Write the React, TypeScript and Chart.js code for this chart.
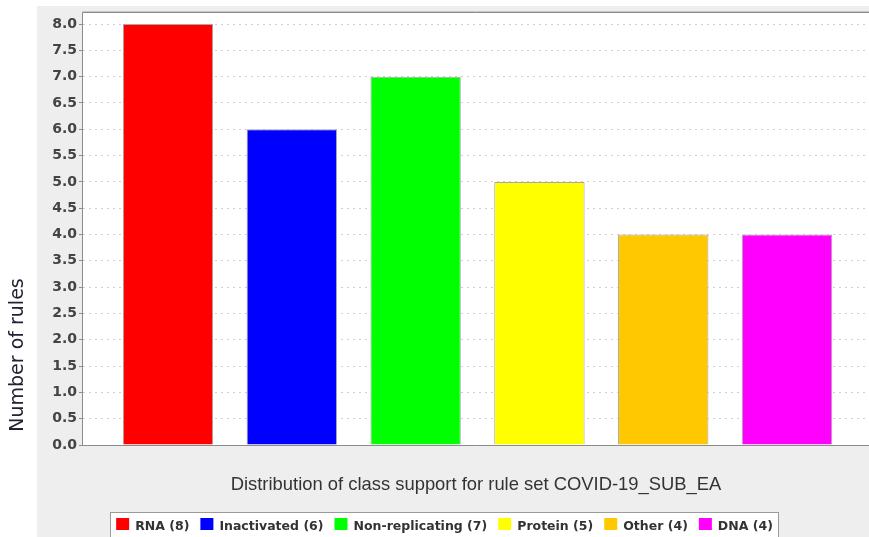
import React, { useEffect, useRef } from "react";
import { Chart, registerables } from "chart.js";
Chart.register(...registerables);

const categories = ["RNA", "Inactivated", "Non-replicating", "Protein", "Other", "DNA"];
const ruleCounts = [8, 6, 7, 5, 4, 4];
const barColors = ["#ff0000", "#0000ff", "#00ff00", "#ffff00", "#ffc800", "#ff00ff"];
const yMin = 0;
const yMax = 8.21;
const yTickStep = 0.5;
const xAxisTitle = "Distribution of class support for rule set COVID-19_SUB_EA";
const yAxisTitle = "Number of rules";

const W = 869;
const H = 537;

const decorPlugin = {
  id: "decor",
  beforeDraw(chart: any) {
    const { ctx, chartArea: a, width, height } = chart;
    ctx.save();
    ctx.fillStyle = "#ffffff";
    ctx.fillRect(0, 0, width, height);
    ctx.fillStyle = "#eeeeee";
    ctx.fillRect(37, 6, width - 37, height - 6);
    ctx.fillStyle = "#ffffff";
    ctx.fillRect(a.left, a.top, a.right - a.left, a.bottom - a.top);
    ctx.restore();
  },
  afterDatasetsDraw(chart: any) {
    const { ctx, chartArea: a } = chart;
    ctx.save();
    ctx.lineWidth = 1;
    ctx.strokeStyle = "#c8c8c8";
    ctx.beginPath();
    ctx.moveTo(a.left - 1, a.top - 1.5);
    ctx.lineTo(a.right, a.top - 1.5);
    ctx.stroke();
    ctx.strokeStyle = "#8c8c8c";
    ctx.beginPath();
    ctx.moveTo(a.right, a.top - 0.5);
    ctx.lineTo(a.left - 0.5, a.top - 0.5);
    ctx.lineTo(a.left - 0.5, a.bottom + 0.5);
    ctx.lineTo(a.right, a.bottom + 0.5);
    ctx.stroke();
    ctx.restore();
  },
  afterDraw(chart: any) {
    const { ctx } = chart;
    ctx.save();
    // y axis title
    ctx.translate(18, 355);
    ctx.rotate(-Math.PI / 2);
    ctx.fillStyle = "#222233";
    ctx.font = "19px 'DejaVu Sans', sans-serif";
    ctx.textAlign = "center";
    ctx.textBaseline = "middle";
    ctx.fillText(yAxisTitle, 0, 0);
    ctx.restore();

    // legend
    ctx.save();
    const boxL = 110.5, boxR = 778.5, boxT = 512.5, boxB = 540;
    ctx.fillStyle = "#ffffff";
    ctx.fillRect(boxL, boxT, boxR - boxL, boxB - boxT);
    ctx.strokeStyle = "#9a9a9a";
    ctx.lineWidth = 1;
    ctx.strokeRect(boxL, boxT, boxR - boxL, boxB - boxT);
    ctx.font = "bold 12.5px 'DejaVu Sans', sans-serif";
    ctx.textBaseline = "middle";
    const labels = categories.map((c, i) => `${c} (${ruleCounts[i]})`);
    const sq = 13, gapSq = 6, gapItem = 11;
    const widths = labels.map((l) => ctx.measureText(l).width);
    const total = widths.reduce((s, w) => s + w + sq + gapSq, 0) + gapItem * (labels.length - 1);
    let x = (boxL + boxR) / 2 - total / 2;
    labels.forEach((l, i) => {
      ctx.fillStyle = barColors[i];
      ctx.fillRect(x, 518, sq, 12);
      ctx.fillStyle = "#333333";
      ctx.fillText(l, x + sq + gapSq, 526.5);
      x += sq + gapSq + widths[i] + gapItem;
    });
    ctx.restore();
  },
};

export default function App() {
  const ref = useRef<HTMLCanvasElement | null>(null);
  useEffect(() => {
    if (!ref.current) return;
    const chart = new Chart(ref.current, {
      type: "bar",
      data: {
        datasets: [
          {
            data: categories.map((_, i) => ({ x: i, y: ruleCounts[i] })) as any,
            backgroundColor: barColors,
            borderColor: "#a8a8a8",
            borderWidth: 1,
            categoryPercentage: 1,
            barPercentage: 0.73,
          },
        ],
      },
      options: {
        animation: false,
        responsive: false,
        events: [],
        layout: { padding: { left: 0, top: 13, right: 0, bottom: 32 } },
        plugins: { legend: { display: false }, tooltip: { enabled: false } },
        scales: {
          x: {
            type: "linear",
            offset: false,
            min: -0.6866,
            max: 5.662,
            afterFit: (s: any) => {
              s.height = 60;
            },
            ticks: { display: false, stepSize: 1, includeBounds: false },
            grid: { display: false, offset: false },
            border: { display: false },
            title: {
              display: true,
              text: xAxisTitle,
              color: "#333333",
              font: { family: "'Liberation Sans', Arial, sans-serif", size: 18.4 },
              padding: { top: 0, bottom: 9 },
            },
          },
          y: {
            min: yMin,
            max: yMax,
            afterFit: (s: any) => {
              s.width = 83;
            },
            ticks: {
              stepSize: yTickStep,
              includeBounds: false,
              padding: 2,
              color: "#444444",
              font: { family: "'DejaVu Sans', sans-serif", size: 14, weight: "bold" },
              callback: (v: any) => Number(v).toFixed(1),
            },
            grid: {
              color: "#d0d0d0",
              tickColor: "#8c8c8c",
              tickLength: 4,
              drawTicks: true,
            },
            border: { display: false, dash: [2, 4] },
          },
        },
      },
      plugins: [decorPlugin],
    });
    return () => chart.destroy();
  }, []);
  return (
    <div style={{ position: "fixed", left: 0, top: 0, width: W, height: H, overflow: "hidden" }}>
      <canvas ref={ref} width={W} height={H} style={{ display: "block" }} />
    </div>
  );
}
